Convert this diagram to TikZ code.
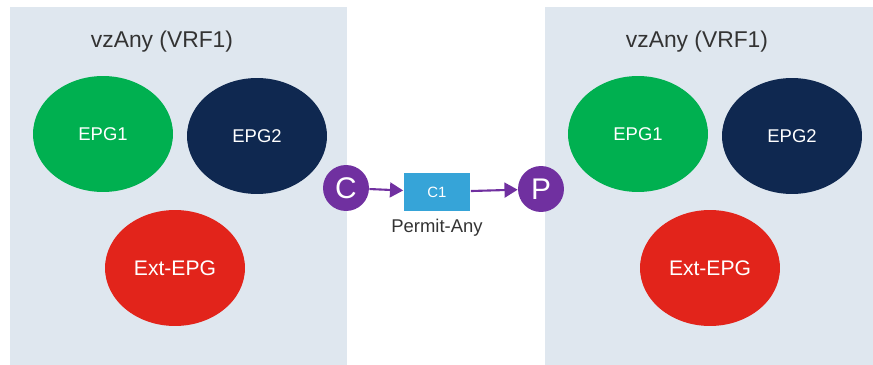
\documentclass[tikz,border=0pt]{standalone}
\usepackage{fontspec}
\setmainfont{Liberation Sans}
\usetikzlibrary{arrows.meta,positioning,shapes.geometric}

\definecolor{panelbg}{HTML}{DFE7EF}
\definecolor{epggreen}{HTML}{00B050}
\definecolor{epgnavy}{HTML}{0F2850}
\definecolor{epgred}{HTML}{E2241B}
\definecolor{ctpurple}{HTML}{7030A0}
\definecolor{ctblue}{HTML}{36A4D8}
\definecolor{txtgray}{HTML}{333333}

\begin{document}
\begin{tikzpicture}[x=0.02cm,y=-0.02cm,
    epg/.style={ellipse,fill=#1,text=white,inner sep=0pt,
      minimum width=2.8cm,minimum height=2.32cm,font=\fontsize{10.5}{12}\selectfont},
    role/.style={circle,fill=ctpurple,text=white,inner sep=0pt,
      minimum size=0.92cm,font=\fontsize{17}{20}\selectfont},
    link/.style={ctpurple,line width=1.2pt,-{Triangle[length=7.5pt,width=8.5pt]}}]
  \useasboundingbox (0,0) rectangle (873,365);
  \foreach \dx/\p/\w in {0/l/337,535/r/338} {
    \fill[panelbg] (\dx+10,7) rectangle +(\w,358);
    \node[text=txtgray,font=\fontsize{13}{15}\selectfont] (\p-title) at (\dx+162,42) {vzAny (VRF1)};
    \node[epg=epggreen] (\p-epg1) at (\dx+103,134) {EPG1};
    \node[epg=epgnavy] (\p-epg2) at (\dx+257,136) {EPG2};
    \node[epg=epgred,font=\fontsize{12}{14}\selectfont] (\p-ext) at (\dx+175,268) {Ext-EPG};
  }
  \node[role] (cons) at (346,188) {C};
  \node[fill=ctblue,text=white,minimum width=1.34cm,minimum height=0.78cm,
    font=\fontsize{8.5}{10}\selectfont] (c1) at (437,192) {C1};
  \node[text=txtgray,font=\fontsize{10.5}{12}\selectfont] (permit) at (437,228) {Permit-Any};
  \node[role] (prov) at (541,189) {P};
  \draw[link] (cons) -- (c1);
  \draw[link] (c1) -- (prov);
\end{tikzpicture}
\end{document}
